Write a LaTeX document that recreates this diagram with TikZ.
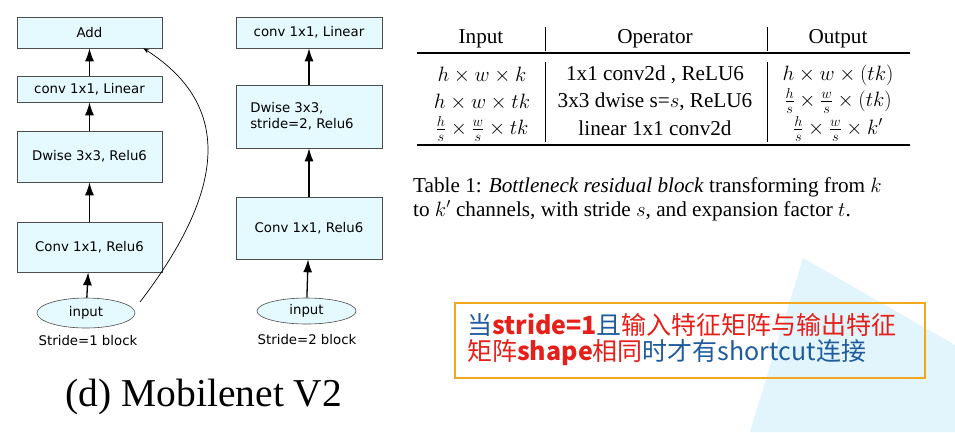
\documentclass[tikz,border=0pt]{standalone}
\usepackage{fontspec}
\setmainfont{Liberation Serif}
\setsansfont{DejaVu Sans}
\newfontfamily\cjk{Noto Sans CJK SC}
\usetikzlibrary{arrows.meta,shapes.geometric}
\definecolor{blockFill}{HTML}{E4FAFF}
\definecolor{blockEdge}{HTML}{4D4D4D}
\definecolor{bgTri}{HTML}{E2F4FC}
\definecolor{noteEdge}{HTML}{F2A81D}
\definecolor{noteRed}{HTML}{E5201A}
\definecolor{noteBlue}{HTML}{1F5C9E}

\tikzset{
    layer/.style={draw=blockEdge, fill=blockFill, line width=0.6pt, minimum width=145pt, inner sep=0pt, font=\sffamily\fontsize{13.3}{16}\selectfont},
    inlet/.style={ellipse, draw=blockEdge, fill=blockFill, line width=0.6pt, inner sep=0pt, font=\sffamily\fontsize{13.3}{15}\selectfont},
    flow/.style={-{Latex[length=13pt,width=9pt]}, line width=1.3pt},
    tabtext/.style={font=\fontsize{21.2}{23}\selectfont, inner sep=0pt},
}

\begin{document}
\begin{tikzpicture}[x=1pt, y=-1pt]
    \useasboundingbox (0,0) rectangle (955,432);
    \fill[bgTri] (803,258) -- (955,345) -- (955,432) -- (750,432) -- cycle;

    % stride 1
    \node[layer, minimum height=31pt] (add) at (89.5,32.5) {Add};
    \node[layer, minimum height=26pt] (lin1) at (89.5,89) {conv 1x1, Linear};
    \node[layer, minimum height=51pt] (dw1) at (89.5,156.5) {Dwise 3x3, Relu6};
    \node[layer, minimum height=50pt] (exp1) at (89.5,247) {Conv 1x1, Relu6};
    \node[inlet, minimum width=98pt, minimum height=30pt] (in1) at (86,313) {input};
    \node[font=\sffamily\fontsize{13.3}{15}\selectfont] (cap1) at (88,341) {Stride=1 block};
    \draw[flow] (in1) -- (exp1);
    \draw[flow] (exp1) -- (dw1);
    \draw[flow] (dw1) -- (lin1);
    \draw[flow] (lin1) -- (add);
    \coordinate (skip) at (140,302);
    \draw[-{Stealth[length=6pt,width=4pt]}, line width=0.7pt] (skip) .. controls (218,200) and (240,110) .. ([xshift=-19pt]add.south east);

    % stride 2
    \node[layer, minimum width=146pt, minimum height=31pt] (lin2) at (309,32.5) {conv 1x1, Linear};
    \node[layer, minimum width=146pt, minimum height=63pt, align=left] (dw2) at (309,116.5) {Dwise 3x3,\\stride=2, Relu6\hspace*{14pt}};
    \node[layer, minimum width=146pt, minimum height=62pt] (exp2) at (309,228) {Conv 1x1, Relu6};
    \node[inlet, minimum width=99pt, minimum height=26pt] (in2) at (306.5,311) {input};
    \node[font=\sffamily\fontsize{13.3}{15}\selectfont] (cap2) at (307,340) {Stride=2 block};
    \draw[flow] (in2) -- (exp2);
    \draw[flow] (exp2) -- (dw2);
    \draw[flow] (dw2) -- (lin2);

    \node[font=\fontsize{39.5}{44}\selectfont] (title) at (204,397) {(d) Mobilenet V2};

    % table
    \draw[line width=2.5pt] (417,53) -- (910,53);
    \draw[line width=2.5pt] (417,145) -- (910,145);
    \foreach \cx in {545,767} {
        \draw[line width=0.7pt] (\cx,27) -- (\cx,51);
        \draw[line width=0.7pt] (\cx,62) -- (\cx,142);
    }
    \node[tabtext] (hin) at (481,39) {Input};
    \node[tabtext] (hop) at (655,39) {Operator};
    \node[tabtext] (hout) at (838,39) {Output};
    \node[tabtext] (r1a) at (482,75) {$h \times w \times k$};
    \node[tabtext] (r1b) at (655,75) {1x1 conv2d , ReLU6};
    \node[tabtext] (r1c) at (838,75) {$h \times w \times (tk)$};
    \node[tabtext] (r2a) at (482,102) {$h \times w \times tk$};
    \node[tabtext] (r2b) at (655,102) {3x3 dwise s=$s$, ReLU6};
    \node[tabtext] (r2c) at (838,101) {$\frac{h}{s} \times \frac{w}{s} \times (tk)$};
    \node[tabtext] (r3a) at (482,129) {$\frac{h}{s} \times \frac{w}{s} \times tk$};
    \node[tabtext] (r3b) at (655,128) {linear 1x1 conv2d};
    \node[tabtext] (r3c) at (838,129) {$\frac{h}{s} \times \frac{w}{s} \times k'$};
    \node[tabtext, anchor=west] (tcap1) at (413,187) {Table 1: \textit{Bottleneck residual block} transforming from $k$};
    \node[tabtext, anchor=west] (tcap2) at (413,211) {to $k'$ channels, with stride $s$, and expansion factor $t$.};

    % note
    \draw[noteEdge, line width=1.6pt] (455,303) rectangle (925,378);
    \node[anchor=west, inner sep=0pt, font=\cjk\fontsize{25}{28}\selectfont] (note1) at (467,325)
        {\color{noteBlue}当\color{noteRed}\textbf{stride=1}\color{noteBlue}且\color{noteRed}输入特征矩阵与输出特征};
    \node[anchor=west, inner sep=0pt, font=\cjk\fontsize{25}{28}\selectfont] (note2) at (467,353)
        {\color{noteRed}矩阵\textbf{shape}相同\color{noteBlue}时才有shortcut连接};
\end{tikzpicture}
\end{document}
